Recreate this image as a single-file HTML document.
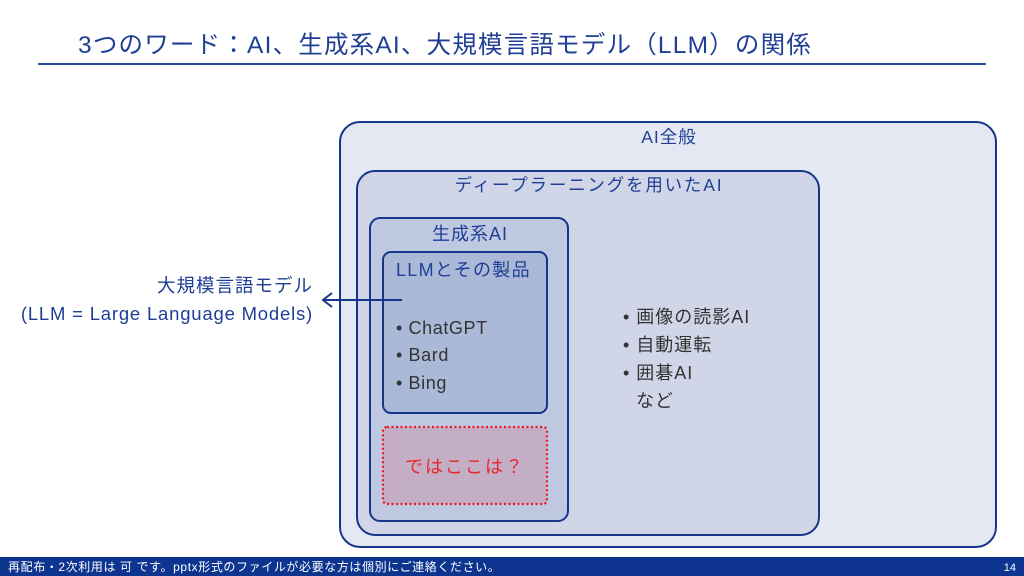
<!DOCTYPE html>
<html><head><meta charset="utf-8">
<style>
html,body{margin:0;padding:0;background:#fff;}
body{width:1024px;height:576px;overflow:hidden;position:relative;font-family:"Liberation Sans","Noto Sans CJK JP",sans-serif;}
svg{position:absolute;left:0;top:0;}
text{font-family:"Liberation Sans","Noto Sans CJK JP",sans-serif;}
</style></head><body>
<svg width="1024" height="576" viewBox="0 0 1024 576" xmlns="http://www.w3.org/2000/svg">
  <!-- title -->
  <text x="78" y="53" font-size="24.5" fill="#1f3f94" letter-spacing="1.2">3つのワード：AI、生成系AI、大規模言語モデル（LLM）の関係</text>
  <rect x="38" y="63" width="948" height="2" fill="#2448a0"/>

  <!-- boxes -->
  <rect x="340" y="122" width="656" height="425" rx="20" ry="20" fill="#e4e8f2" stroke="#16368c" stroke-width="2"/>
  <rect x="357" y="171" width="462" height="364" rx="18" ry="18" fill="#d0d6e8" stroke="#16368c" stroke-width="2"/>
  <rect x="370" y="218" width="198" height="303" rx="10" ry="10" fill="#bec8e0" stroke="#16368c" stroke-width="2"/>
  <rect x="383" y="252" width="164" height="161" rx="8" ry="8" fill="#aab9d8" stroke="#16368c" stroke-width="2"/>
  <rect x="383" y="427" width="164" height="77" rx="4" ry="4" fill="#c4aec6" stroke="#f0141e" stroke-width="2.2" stroke-dasharray="2 2.5"/>

  <!-- labels -->
  <text x="669" y="143" font-size="17.5" fill="#1f3f94" text-anchor="middle" letter-spacing="1">AI全般</text>
  <text x="589" y="191" font-size="17.5" fill="#1f3f94" text-anchor="middle" letter-spacing="1.8">ディープラーニングを用いたAI</text>
  <text x="470" y="240" font-size="18" fill="#1f3f94" text-anchor="middle" letter-spacing="1">生成系AI</text>
  <text x="396" y="276" font-size="18" fill="#1f3f94" letter-spacing="1.3">LLMとその製品</text>

  <g font-size="18" fill="#333" letter-spacing="0.6">
    <text x="396" y="334">• ChatGPT</text>
    <text x="396" y="361">• Bard</text>
    <text x="396" y="389">• Bing</text>
  </g>
  <g font-size="18" fill="#333" letter-spacing="1">
    <text x="623" y="323">• 画像の読影AI</text>
    <text x="623" y="351">• 自動運転</text>
    <text x="623" y="379">• 囲碁AI</text>
    <text x="636" y="407">など</text>
  </g>

  <text x="465" y="473" font-size="18" fill="#e8262a" text-anchor="middle" letter-spacing="2">ではここは？</text>

  <!-- left label -->
  <text x="313" y="292" font-size="18.5" fill="#1f3f94" text-anchor="end" letter-spacing="1">大規模言語モデル</text>
  <text x="313" y="320" font-size="18.5" fill="#1f3f94" text-anchor="end" letter-spacing="0.8">(LLM = Large Language Models)</text>

  <!-- arrow -->
  <line x1="402" y1="300" x2="324" y2="300" stroke="#16368c" stroke-width="2"/>
  <polyline points="332,293 323,300 332,307" fill="none" stroke="#16368c" stroke-width="2"/>

  <!-- footer -->
  <rect x="0" y="557" width="1024" height="19" fill="#0d3590"/>
  <text x="8" y="571" font-size="12" fill="#ffffff" letter-spacing="0.6">再配布・2次利用は 可 です。pptx形式のファイルが必要な方は個別にご連絡ください。</text>
  <text x="1016" y="571" font-size="11" fill="#ffffff" text-anchor="end">14</text>
</svg>
</body></html>
